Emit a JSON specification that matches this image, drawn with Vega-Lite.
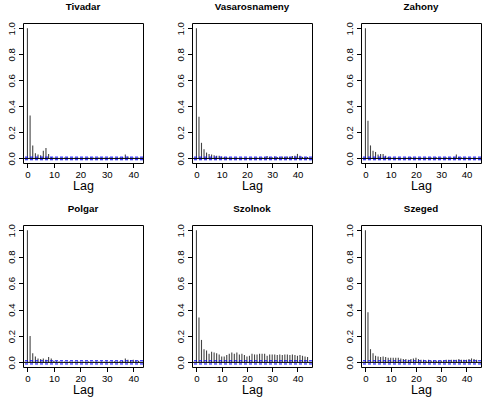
{
  "$schema": "https://vega.github.io/schema/vega-lite/v6.json",
  "padding": {"left": 5, "top": 1, "right": 3, "bottom": 0},
  "bounds": "flush",
  "columns": 3,
  "spacing": {"row": 62, "column": 49},
  "config": {
    "font": "Liberation Sans",
    "view": {"stroke": "black", "strokeWidth": 1},
    "axis": {"domain": false, "grid": false, "tickColor": "black", "tickSize": 4.5, "labelFontSize": 9.6, "labelColor": "black", "titleFontSize": 12.5, "titleFontWeight": "normal", "titleColor": "black", "labelFont": "Liberation Sans", "titleFont": "Liberation Sans", "labelFlush": false},
    "axisX": {"labelPadding": 2, "titlePadding": 0},
    "title": {"fontSize": 9.8, "fontWeight": "bold", "color": "black", "frame": "group", "anchor": "middle", "offset": 10, "font": "Liberation Sans"}
  },
  "datasets": {
    "acf": [
      {"station":"Tivadar","lag":0,"acf":1.0},{"station":"Tivadar","lag":1,"acf":0.33},{"station":"Tivadar","lag":2,"acf":0.1},{"station":"Tivadar","lag":3,"acf":0.04},{"station":"Tivadar","lag":4,"acf":0.03},{"station":"Tivadar","lag":5,"acf":0.025},{"station":"Tivadar","lag":6,"acf":0.06},{"station":"Tivadar","lag":7,"acf":0.08},{"station":"Tivadar","lag":8,"acf":0.035},{"station":"Tivadar","lag":9,"acf":0.01},{"station":"Tivadar","lag":10,"acf":0.005},{"station":"Tivadar","lag":11,"acf":-0.005},{"station":"Tivadar","lag":12,"acf":0.004},{"station":"Tivadar","lag":13,"acf":-0.003},{"station":"Tivadar","lag":14,"acf":0.006},{"station":"Tivadar","lag":15,"acf":0.008},{"station":"Tivadar","lag":16,"acf":0.004},{"station":"Tivadar","lag":17,"acf":-0.004},{"station":"Tivadar","lag":18,"acf":0.005},{"station":"Tivadar","lag":19,"acf":0.006},{"station":"Tivadar","lag":20,"acf":0.004},{"station":"Tivadar","lag":21,"acf":0.003},{"station":"Tivadar","lag":22,"acf":-0.004},{"station":"Tivadar","lag":23,"acf":0.005},{"station":"Tivadar","lag":24,"acf":0.007},{"station":"Tivadar","lag":25,"acf":0.006},{"station":"Tivadar","lag":26,"acf":0.004},{"station":"Tivadar","lag":27,"acf":0.008},{"station":"Tivadar","lag":28,"acf":0.005},{"station":"Tivadar","lag":29,"acf":0.006},{"station":"Tivadar","lag":30,"acf":0.004},{"station":"Tivadar","lag":31,"acf":0.007},{"station":"Tivadar","lag":32,"acf":0.005},{"station":"Tivadar","lag":33,"acf":0.003},{"station":"Tivadar","lag":34,"acf":0.006},{"station":"Tivadar","lag":35,"acf":0.008},{"station":"Tivadar","lag":36,"acf":0.01},{"station":"Tivadar","lag":37,"acf":0.03},{"station":"Tivadar","lag":38,"acf":0.015},{"station":"Tivadar","lag":39,"acf":0.006},{"station":"Tivadar","lag":40,"acf":0.005},{"station":"Tivadar","lag":41,"acf":0.004},{"station":"Tivadar","lag":42,"acf":0.006},
      {"station":"Vasarosnameny","lag":0,"acf":1.0},{"station":"Vasarosnameny","lag":1,"acf":0.32},{"station":"Vasarosnameny","lag":2,"acf":0.12},{"station":"Vasarosnameny","lag":3,"acf":0.07},{"station":"Vasarosnameny","lag":4,"acf":0.045},{"station":"Vasarosnameny","lag":5,"acf":0.035},{"station":"Vasarosnameny","lag":6,"acf":0.03},{"station":"Vasarosnameny","lag":7,"acf":0.025},{"station":"Vasarosnameny","lag":8,"acf":0.02},{"station":"Vasarosnameny","lag":9,"acf":0.02},{"station":"Vasarosnameny","lag":10,"acf":0.015},{"station":"Vasarosnameny","lag":11,"acf":0.012},{"station":"Vasarosnameny","lag":12,"acf":0.01},{"station":"Vasarosnameny","lag":13,"acf":0.008},{"station":"Vasarosnameny","lag":14,"acf":0.006},{"station":"Vasarosnameny","lag":15,"acf":0.006},{"station":"Vasarosnameny","lag":16,"acf":0.005},{"station":"Vasarosnameny","lag":17,"acf":0.004},{"station":"Vasarosnameny","lag":18,"acf":0.005},{"station":"Vasarosnameny","lag":19,"acf":0.004},{"station":"Vasarosnameny","lag":20,"acf":0.004},{"station":"Vasarosnameny","lag":21,"acf":0.005},{"station":"Vasarosnameny","lag":22,"acf":0.005},{"station":"Vasarosnameny","lag":23,"acf":0.006},{"station":"Vasarosnameny","lag":24,"acf":0.006},{"station":"Vasarosnameny","lag":25,"acf":0.007},{"station":"Vasarosnameny","lag":26,"acf":0.008},{"station":"Vasarosnameny","lag":27,"acf":0.01},{"station":"Vasarosnameny","lag":28,"acf":0.018},{"station":"Vasarosnameny","lag":29,"acf":0.012},{"station":"Vasarosnameny","lag":30,"acf":0.01},{"station":"Vasarosnameny","lag":31,"acf":0.015},{"station":"Vasarosnameny","lag":32,"acf":0.012},{"station":"Vasarosnameny","lag":33,"acf":0.01},{"station":"Vasarosnameny","lag":34,"acf":0.014},{"station":"Vasarosnameny","lag":35,"acf":0.012},{"station":"Vasarosnameny","lag":36,"acf":0.015},{"station":"Vasarosnameny","lag":37,"acf":0.012},{"station":"Vasarosnameny","lag":38,"acf":0.018},{"station":"Vasarosnameny","lag":39,"acf":0.02},{"station":"Vasarosnameny","lag":40,"acf":0.035},{"station":"Vasarosnameny","lag":41,"acf":0.02},{"station":"Vasarosnameny","lag":42,"acf":0.012},{"station":"Vasarosnameny","lag":43,"acf":0.01},{"station":"Vasarosnameny","lag":44,"acf":0.012},
      {"station":"Zahony","lag":0,"acf":1.0},{"station":"Zahony","lag":1,"acf":0.29},{"station":"Zahony","lag":2,"acf":0.1},{"station":"Zahony","lag":3,"acf":0.06},{"station":"Zahony","lag":4,"acf":0.05},{"station":"Zahony","lag":5,"acf":0.03},{"station":"Zahony","lag":6,"acf":0.035},{"station":"Zahony","lag":7,"acf":0.035},{"station":"Zahony","lag":8,"acf":0.02},{"station":"Zahony","lag":9,"acf":0.012},{"station":"Zahony","lag":10,"acf":0.008},{"station":"Zahony","lag":11,"acf":0.006},{"station":"Zahony","lag":12,"acf":0.004},{"station":"Zahony","lag":13,"acf":0.005},{"station":"Zahony","lag":14,"acf":0.003},{"station":"Zahony","lag":15,"acf":0.004},{"station":"Zahony","lag":16,"acf":0.006},{"station":"Zahony","lag":17,"acf":0.008},{"station":"Zahony","lag":18,"acf":0.012},{"station":"Zahony","lag":19,"acf":0.006},{"station":"Zahony","lag":20,"acf":0.005},{"station":"Zahony","lag":21,"acf":0.004},{"station":"Zahony","lag":22,"acf":0.005},{"station":"Zahony","lag":23,"acf":0.004},{"station":"Zahony","lag":24,"acf":0.006},{"station":"Zahony","lag":25,"acf":0.005},{"station":"Zahony","lag":26,"acf":0.008},{"station":"Zahony","lag":27,"acf":0.006},{"station":"Zahony","lag":28,"acf":0.01},{"station":"Zahony","lag":29,"acf":0.006},{"station":"Zahony","lag":30,"acf":0.005},{"station":"Zahony","lag":31,"acf":0.006},{"station":"Zahony","lag":32,"acf":0.008},{"station":"Zahony","lag":33,"acf":0.006},{"station":"Zahony","lag":34,"acf":0.005},{"station":"Zahony","lag":35,"acf":0.01},{"station":"Zahony","lag":36,"acf":0.03},{"station":"Zahony","lag":37,"acf":0.012},{"station":"Zahony","lag":38,"acf":0.008},{"station":"Zahony","lag":39,"acf":0.006},{"station":"Zahony","lag":40,"acf":0.005},{"station":"Zahony","lag":41,"acf":0.006},{"station":"Zahony","lag":42,"acf":0.004},{"station":"Zahony","lag":43,"acf":0.005},{"station":"Zahony","lag":44,"acf":0.004},
      {"station":"Polgar","lag":0,"acf":1.0},{"station":"Polgar","lag":1,"acf":0.2},{"station":"Polgar","lag":2,"acf":0.07},{"station":"Polgar","lag":3,"acf":0.045},{"station":"Polgar","lag":4,"acf":0.03},{"station":"Polgar","lag":5,"acf":0.025},{"station":"Polgar","lag":6,"acf":0.03},{"station":"Polgar","lag":7,"acf":0.02},{"station":"Polgar","lag":8,"acf":0.04},{"station":"Polgar","lag":9,"acf":0.03},{"station":"Polgar","lag":10,"acf":0.012},{"station":"Polgar","lag":11,"acf":0.008},{"station":"Polgar","lag":12,"acf":0.006},{"station":"Polgar","lag":13,"acf":0.004},{"station":"Polgar","lag":14,"acf":0.005},{"station":"Polgar","lag":15,"acf":0.004},{"station":"Polgar","lag":16,"acf":0.006},{"station":"Polgar","lag":17,"acf":0.005},{"station":"Polgar","lag":18,"acf":0.004},{"station":"Polgar","lag":19,"acf":0.006},{"station":"Polgar","lag":20,"acf":0.005},{"station":"Polgar","lag":21,"acf":0.004},{"station":"Polgar","lag":22,"acf":0.005},{"station":"Polgar","lag":23,"acf":0.006},{"station":"Polgar","lag":24,"acf":0.004},{"station":"Polgar","lag":25,"acf":0.005},{"station":"Polgar","lag":26,"acf":0.006},{"station":"Polgar","lag":27,"acf":0.005},{"station":"Polgar","lag":28,"acf":0.006},{"station":"Polgar","lag":29,"acf":0.005},{"station":"Polgar","lag":30,"acf":0.006},{"station":"Polgar","lag":31,"acf":0.005},{"station":"Polgar","lag":32,"acf":0.006},{"station":"Polgar","lag":33,"acf":0.008},{"station":"Polgar","lag":34,"acf":0.006},{"station":"Polgar","lag":35,"acf":0.008},{"station":"Polgar","lag":36,"acf":0.012},{"station":"Polgar","lag":37,"acf":0.03},{"station":"Polgar","lag":38,"acf":0.02},{"station":"Polgar","lag":39,"acf":0.018},{"station":"Polgar","lag":40,"acf":0.02},{"station":"Polgar","lag":41,"acf":0.015},{"station":"Polgar","lag":42,"acf":0.012},
      {"station":"Szolnok","lag":0,"acf":1.0},{"station":"Szolnok","lag":1,"acf":0.34},{"station":"Szolnok","lag":2,"acf":0.17},{"station":"Szolnok","lag":3,"acf":0.1},{"station":"Szolnok","lag":4,"acf":0.09},{"station":"Szolnok","lag":5,"acf":0.065},{"station":"Szolnok","lag":6,"acf":0.08},{"station":"Szolnok","lag":7,"acf":0.075},{"station":"Szolnok","lag":8,"acf":0.07},{"station":"Szolnok","lag":9,"acf":0.06},{"station":"Szolnok","lag":10,"acf":0.045},{"station":"Szolnok","lag":11,"acf":0.045},{"station":"Szolnok","lag":12,"acf":0.055},{"station":"Szolnok","lag":13,"acf":0.065},{"station":"Szolnok","lag":14,"acf":0.075},{"station":"Szolnok","lag":15,"acf":0.065},{"station":"Szolnok","lag":16,"acf":0.075},{"station":"Szolnok","lag":17,"acf":0.06},{"station":"Szolnok","lag":18,"acf":0.065},{"station":"Szolnok","lag":19,"acf":0.055},{"station":"Szolnok","lag":20,"acf":0.045},{"station":"Szolnok","lag":21,"acf":0.05},{"station":"Szolnok","lag":22,"acf":0.065},{"station":"Szolnok","lag":23,"acf":0.06},{"station":"Szolnok","lag":24,"acf":0.06},{"station":"Szolnok","lag":25,"acf":0.065},{"station":"Szolnok","lag":26,"acf":0.065},{"station":"Szolnok","lag":27,"acf":0.065},{"station":"Szolnok","lag":28,"acf":0.05},{"station":"Szolnok","lag":29,"acf":0.06},{"station":"Szolnok","lag":30,"acf":0.06},{"station":"Szolnok","lag":31,"acf":0.06},{"station":"Szolnok","lag":32,"acf":0.055},{"station":"Szolnok","lag":33,"acf":0.06},{"station":"Szolnok","lag":34,"acf":0.055},{"station":"Szolnok","lag":35,"acf":0.06},{"station":"Szolnok","lag":36,"acf":0.06},{"station":"Szolnok","lag":37,"acf":0.055},{"station":"Szolnok","lag":38,"acf":0.06},{"station":"Szolnok","lag":39,"acf":0.055},{"station":"Szolnok","lag":40,"acf":0.05},{"station":"Szolnok","lag":41,"acf":0.055},{"station":"Szolnok","lag":42,"acf":0.05},{"station":"Szolnok","lag":43,"acf":0.045},{"station":"Szolnok","lag":44,"acf":0.04},
      {"station":"Szeged","lag":0,"acf":1.0},{"station":"Szeged","lag":1,"acf":0.38},{"station":"Szeged","lag":2,"acf":0.1},{"station":"Szeged","lag":3,"acf":0.07},{"station":"Szeged","lag":4,"acf":0.05},{"station":"Szeged","lag":5,"acf":0.045},{"station":"Szeged","lag":6,"acf":0.04},{"station":"Szeged","lag":7,"acf":0.045},{"station":"Szeged","lag":8,"acf":0.04},{"station":"Szeged","lag":9,"acf":0.035},{"station":"Szeged","lag":10,"acf":0.035},{"station":"Szeged","lag":11,"acf":0.035},{"station":"Szeged","lag":12,"acf":0.035},{"station":"Szeged","lag":13,"acf":0.035},{"station":"Szeged","lag":14,"acf":0.03},{"station":"Szeged","lag":15,"acf":0.025},{"station":"Szeged","lag":16,"acf":0.025},{"station":"Szeged","lag":17,"acf":0.02},{"station":"Szeged","lag":18,"acf":0.025},{"station":"Szeged","lag":19,"acf":0.03},{"station":"Szeged","lag":20,"acf":0.035},{"station":"Szeged","lag":21,"acf":0.025},{"station":"Szeged","lag":22,"acf":0.02},{"station":"Szeged","lag":23,"acf":0.02},{"station":"Szeged","lag":24,"acf":0.015},{"station":"Szeged","lag":25,"acf":0.02},{"station":"Szeged","lag":26,"acf":0.015},{"station":"Szeged","lag":27,"acf":0.015},{"station":"Szeged","lag":28,"acf":0.015},{"station":"Szeged","lag":29,"acf":0.01},{"station":"Szeged","lag":30,"acf":0.015},{"station":"Szeged","lag":31,"acf":0.015},{"station":"Szeged","lag":32,"acf":0.02},{"station":"Szeged","lag":33,"acf":0.02},{"station":"Szeged","lag":34,"acf":0.02},{"station":"Szeged","lag":35,"acf":0.02},{"station":"Szeged","lag":36,"acf":0.02},{"station":"Szeged","lag":37,"acf":0.025},{"station":"Szeged","lag":38,"acf":0.02},{"station":"Szeged","lag":39,"acf":0.02},{"station":"Szeged","lag":40,"acf":0.02},{"station":"Szeged","lag":41,"acf":0.025},{"station":"Szeged","lag":42,"acf":0.03},{"station":"Szeged","lag":43,"acf":0.025},{"station":"Szeged","lag":44,"acf":0.02}
    ],
    "ci": [
      {"station":"Tivadar","ci":0.01},{"station":"Tivadar","ci":-0.01},
      {"station":"Vasarosnameny","ci":0.01},{"station":"Vasarosnameny","ci":-0.01},
      {"station":"Zahony","ci":0.01},{"station":"Zahony","ci":-0.01},
      {"station":"Polgar","ci":0.012},{"station":"Polgar","ci":-0.012},
      {"station":"Szolnok","ci":0.012},{"station":"Szolnok","ci":-0.012},
      {"station":"Szeged","ci":0.012},{"station":"Szeged","ci":-0.012}
    ]
  },
  "concat": [
      {"title": "Tivadar", "width": 120, "height": 140, "layer": [
        {"data": {"name": "acf"}, "transform": [{"filter": "datum.station === 'Tivadar'"}], "mark": {"type": "rule", "color": "#444", "strokeWidth": 1.1},
         "encoding": {"x": {"field": "lag", "type": "quantitative", "scale": {"domain": [-1.68, 43.68], "nice": false}, "axis": {"values": [0,10,20,30,40], "title": "Lag"}},
                      "y": {"field": "acf", "type": "quantitative", "scale": {"domain": [-0.035, 1.04], "nice": false}, "axis": {"tickCount": 6, "format": ".1f", "title": null, "labelAngle": 270, "labelAlign": "center", "labelBaseline": "bottom", "labelPadding": 2, "labelOverlap": false}},
                      "y2": {"datum": 0}}},
        {"data": {"name": "ci"}, "transform": [{"filter": "datum.station === 'Tivadar'"}], "mark": {"type": "rule", "color": "blue", "strokeDash": [3, 2]}, "encoding": {"y": {"field": "ci", "type": "quantitative"}}},
        {"data": {"name": "ci"}, "transform": [{"filter": "datum.station === 'Tivadar' && datum.ci > 0"}], "mark": {"type": "rule", "color": "black"}, "encoding": {"y": {"datum": 0}}}
      ]},
      {"title": "Vasarosnameny", "width": 120, "height": 140, "layer": [
        {"data": {"name": "acf"}, "transform": [{"filter": "datum.station === 'Vasarosnameny'"}], "mark": {"type": "rule", "color": "#444", "strokeWidth": 1.1},
         "encoding": {"x": {"field": "lag", "type": "quantitative", "scale": {"domain": [-1.76, 45.76], "nice": false}, "axis": {"values": [0,10,20,30,40], "title": "Lag"}},
                      "y": {"field": "acf", "type": "quantitative", "scale": {"domain": [-0.035, 1.04], "nice": false}, "axis": {"tickCount": 6, "format": ".1f", "title": null, "labelAngle": 270, "labelAlign": "center", "labelBaseline": "bottom", "labelPadding": 2, "labelOverlap": false}},
                      "y2": {"datum": 0}}},
        {"data": {"name": "ci"}, "transform": [{"filter": "datum.station === 'Vasarosnameny'"}], "mark": {"type": "rule", "color": "blue", "strokeDash": [3, 2]}, "encoding": {"y": {"field": "ci", "type": "quantitative"}}},
        {"data": {"name": "ci"}, "transform": [{"filter": "datum.station === 'Vasarosnameny' && datum.ci > 0"}], "mark": {"type": "rule", "color": "black"}, "encoding": {"y": {"datum": 0}}}
      ]},
      {"title": "Zahony", "width": 120, "height": 140, "layer": [
        {"data": {"name": "acf"}, "transform": [{"filter": "datum.station === 'Zahony'"}], "mark": {"type": "rule", "color": "#444", "strokeWidth": 1.1},
         "encoding": {"x": {"field": "lag", "type": "quantitative", "scale": {"domain": [-1.76, 45.76], "nice": false}, "axis": {"values": [0,10,20,30,40], "title": "Lag"}},
                      "y": {"field": "acf", "type": "quantitative", "scale": {"domain": [-0.035, 1.04], "nice": false}, "axis": {"tickCount": 6, "format": ".1f", "title": null, "labelAngle": 270, "labelAlign": "center", "labelBaseline": "bottom", "labelPadding": 2, "labelOverlap": false}},
                      "y2": {"datum": 0}}},
        {"data": {"name": "ci"}, "transform": [{"filter": "datum.station === 'Zahony'"}], "mark": {"type": "rule", "color": "blue", "strokeDash": [3, 2]}, "encoding": {"y": {"field": "ci", "type": "quantitative"}}},
        {"data": {"name": "ci"}, "transform": [{"filter": "datum.station === 'Zahony' && datum.ci > 0"}], "mark": {"type": "rule", "color": "black"}, "encoding": {"y": {"datum": 0}}}
      ]},
      {"title": "Polgar", "width": 120, "height": 142, "layer": [
        {"data": {"name": "acf"}, "transform": [{"filter": "datum.station === 'Polgar'"}], "mark": {"type": "rule", "color": "#444", "strokeWidth": 1.1},
         "encoding": {"x": {"field": "lag", "type": "quantitative", "scale": {"domain": [-1.68, 43.68], "nice": false}, "axis": {"values": [0,10,20,30,40], "title": "Lag"}},
                      "y": {"field": "acf", "type": "quantitative", "scale": {"domain": [-0.035, 1.04], "nice": false}, "axis": {"tickCount": 6, "format": ".1f", "title": null, "labelAngle": 270, "labelAlign": "center", "labelBaseline": "bottom", "labelPadding": 2, "labelOverlap": false}},
                      "y2": {"datum": 0}}},
        {"data": {"name": "ci"}, "transform": [{"filter": "datum.station === 'Polgar'"}], "mark": {"type": "rule", "color": "blue", "strokeDash": [3, 2]}, "encoding": {"y": {"field": "ci", "type": "quantitative"}}},
        {"data": {"name": "ci"}, "transform": [{"filter": "datum.station === 'Polgar' && datum.ci > 0"}], "mark": {"type": "rule", "color": "black"}, "encoding": {"y": {"datum": 0}}}
      ]},
      {"title": "Szolnok", "width": 120, "height": 142, "layer": [
        {"data": {"name": "acf"}, "transform": [{"filter": "datum.station === 'Szolnok'"}], "mark": {"type": "rule", "color": "#444", "strokeWidth": 1.1},
         "encoding": {"x": {"field": "lag", "type": "quantitative", "scale": {"domain": [-1.76, 45.76], "nice": false}, "axis": {"values": [0,10,20,30,40], "title": "Lag"}},
                      "y": {"field": "acf", "type": "quantitative", "scale": {"domain": [-0.035, 1.04], "nice": false}, "axis": {"tickCount": 6, "format": ".1f", "title": null, "labelAngle": 270, "labelAlign": "center", "labelBaseline": "bottom", "labelPadding": 2, "labelOverlap": false}},
                      "y2": {"datum": 0}}},
        {"data": {"name": "ci"}, "transform": [{"filter": "datum.station === 'Szolnok'"}], "mark": {"type": "rule", "color": "blue", "strokeDash": [3, 2]}, "encoding": {"y": {"field": "ci", "type": "quantitative"}}},
        {"data": {"name": "ci"}, "transform": [{"filter": "datum.station === 'Szolnok' && datum.ci > 0"}], "mark": {"type": "rule", "color": "black"}, "encoding": {"y": {"datum": 0}}}
      ]},
      {"title": "Szeged", "width": 120, "height": 142, "layer": [
        {"data": {"name": "acf"}, "transform": [{"filter": "datum.station === 'Szeged'"}], "mark": {"type": "rule", "color": "#444", "strokeWidth": 1.1},
         "encoding": {"x": {"field": "lag", "type": "quantitative", "scale": {"domain": [-1.76, 45.76], "nice": false}, "axis": {"values": [0,10,20,30,40], "title": "Lag"}},
                      "y": {"field": "acf", "type": "quantitative", "scale": {"domain": [-0.035, 1.04], "nice": false}, "axis": {"tickCount": 6, "format": ".1f", "title": null, "labelAngle": 270, "labelAlign": "center", "labelBaseline": "bottom", "labelPadding": 2, "labelOverlap": false}},
                      "y2": {"datum": 0}}},
        {"data": {"name": "ci"}, "transform": [{"filter": "datum.station === 'Szeged'"}], "mark": {"type": "rule", "color": "blue", "strokeDash": [3, 2]}, "encoding": {"y": {"field": "ci", "type": "quantitative"}}},
        {"data": {"name": "ci"}, "transform": [{"filter": "datum.station === 'Szeged' && datum.ci > 0"}], "mark": {"type": "rule", "color": "black"}, "encoding": {"y": {"datum": 0}}}
      ]}
  ]
}
